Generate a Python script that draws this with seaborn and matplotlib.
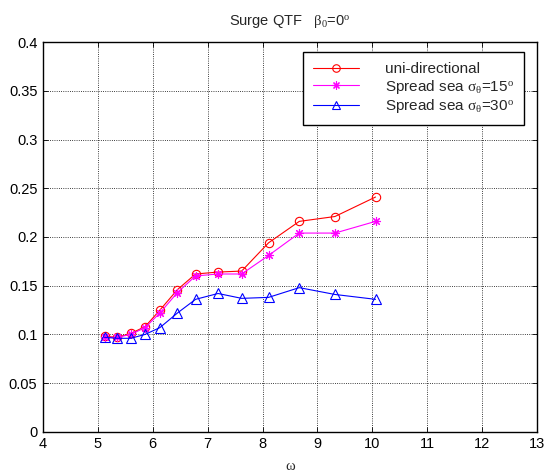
import pandas as pd
import seaborn as sns
import matplotlib.pyplot as plt

# wave frequency (x) and surge QTF values
omega    = [5.12, 5.35, 5.60, 5.86, 6.13, 6.45, 6.78, 7.19, 7.62, 8.11, 8.67, 9.32, 10.06]
uni      = [0.098, 0.097, 0.101, 0.108, 0.125, 0.146, 0.162, 0.164, 0.165, 0.194, 0.216, 0.221, 0.241]
spread15 = [0.097, 0.097, 0.100, 0.107, 0.122, 0.143, 0.160, 0.162, 0.162, 0.181, 0.204, 0.204, 0.216]
spread30 = [0.097, 0.096, 0.096, 0.100, 0.107, 0.122, 0.136, 0.142, 0.137, 0.138, 0.148, 0.141, 0.136]

labels = ['uni-directional',
          r'Spread sea $\rm σ_{θ}$=15$^{\rm o}$',
          r'Spread sea $\rm σ_{θ}$=30$^{\rm o}$']
colors  = ['red', 'magenta', 'blue']
markers = ['o', (8, 2, 0), '^']
msizes  = [6, 6.5, 6.5]

sns.set_theme(style='white', rc={
    'xtick.direction': 'in', 'ytick.direction': 'in',
    'xtick.top': True, 'ytick.right': True,
    'xtick.bottom': True, 'ytick.left': True,
    'xtick.major.size': 3.5, 'ytick.major.size': 3.5,
    'axes.edgecolor': 'black', 'axes.linewidth': 1.0,
    'mathtext.fontset': 'custom', 'mathtext.rm': 'Liberation Serif',
    'mathtext.it': 'Liberation Serif:italic',
})
plt.rcParams['font.family'] = ['Liberation Sans', 'DejaVu Sans']

fig = plt.figure(figsize=(5.45, 4.73), dpi=100)
ax = fig.add_axes([0.079, 0.087, 0.906, 0.824])

for ys, lab, c, m, ms in zip([uni, spread15, spread30], labels, colors, markers, msizes):
    df = pd.DataFrame({'omega': omega, 'qtf': ys})
    sns.lineplot(data=df, x='omega', y='qtf', ax=ax, color=c, lw=0.8,
                 marker=m, markersize=ms, markerfacecolor='none',
                 markeredgecolor=c, markeredgewidth=0.8, label=lab)

ax.set_xlim(4, 13)
ax.set_ylim(0, 0.4)
ax.set_xticks(range(4, 14))
ax.set_yticks([i * 0.05 for i in range(9)])
ax.set_yticklabels(['0', '0.05', '0.1', '0.15', '0.2', '0.25', '0.3', '0.35', '0.4'])
ax.tick_params(labelsize=10.5, colors='black', width=0.6, pad=4)
ax.grid(True, linestyle=':', color='black', linewidth=0.6)

ax.set_title(r'Surge QTF   $\rm β_{0}$=0$^{\rm o}$', fontsize=10.5, pad=12)
ax.set_xlabel('ω', fontsize=10.5, family='Liberation Serif', labelpad=6)
ax.set_ylabel('')

leg = ax.legend(loc='upper right', bbox_to_anchor=(0.974, 0.974), borderaxespad=0,
                fontsize=11, frameon=True, fancybox=False, framealpha=1,
                edgecolor='black', handlelength=3.0, labelspacing=0.1,
                handletextpad=1.7, borderpad=0.65, markerscale=0.9)
leg.get_frame().set_linewidth(1.0)

fig.savefig('out.png', dpi=100)
